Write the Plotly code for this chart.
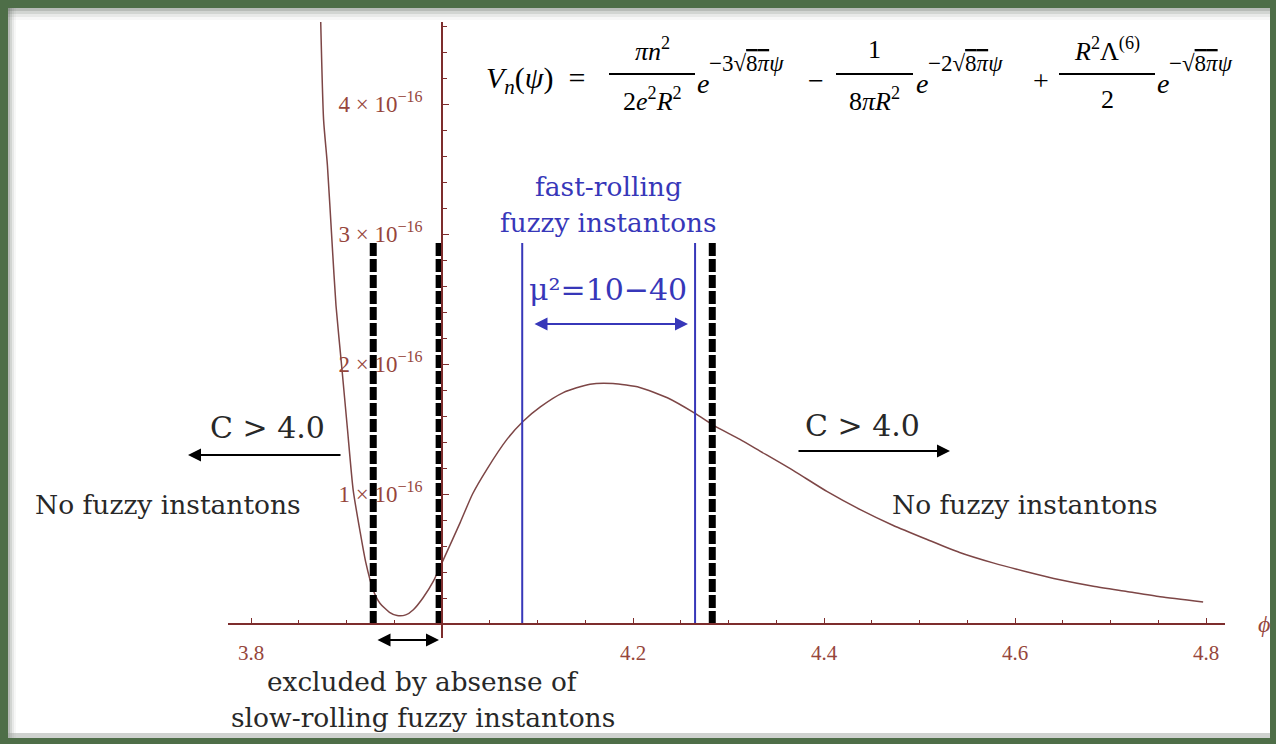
import plotly.graph_objects as go

W, H = 1276, 744

# ---------------- data (V in units of 1e-16) ----------------
phi = [3.873, 3.876, 3.880, 3.885, 3.889, 3.895, 3.901, 3.907, 3.914, 3.920,
       3.928, 3.935, 3.945, 3.953, 3.962, 3.970, 3.980, 3.991, 3.998, 4.003,
       4.019, 4.032, 4.047, 4.068, 4.085, 4.103, 4.127, 4.155, 4.179, 4.207,
       4.236, 4.265, 4.284, 4.312, 4.333, 4.368, 4.403, 4.438, 4.472, 4.508,
       4.542, 4.577, 4.613, 4.647, 4.682, 4.717, 4.752, 4.797]
V = [4.63, 3.88, 3.53, 2.92, 2.45, 1.98, 1.50, 1.03, 0.72, 0.48,
     0.26, 0.16, 0.09, 0.065, 0.07, 0.11, 0.20, 0.33, 0.44, 0.52,
     0.78, 1.00, 1.19, 1.42, 1.56, 1.67, 1.78, 1.845, 1.85, 1.82,
     1.74, 1.62, 1.53, 1.42, 1.33, 1.18, 1.02, 0.88, 0.76, 0.65,
     0.55, 0.47, 0.40, 0.34, 0.29, 0.25, 0.21, 0.17]

dashed_x = [3.928, 3.997, 4.283]   # thick black dashed boundaries
dashed_top = 2.93
blue_x = [4.084, 4.265]            # fast-rolling region
blue_top = 2.93

x_tickvals = [3.8, 4.2, 4.4, 4.6, 4.8]
x_ticktext = ["3.8", "4.2", "4.4", "4.6", "4.8"]
y_tickvals = [1, 2, 3, 4]
y_ticktext = ["1 × 10<sup>−16</sup>", "2 × 10<sup>−16</sup>",
              "3 × 10<sup>−16</sup>", "4 × 10<sup>−16</sup>"]

# ---------------- helpers (pixel -> paper) ----------------
def px(x):
    return x / W

def py(y):
    return 1 - y / H

AXC = "rgb(125,45,45)"
TICKC = "rgb(150,70,60)"
CURVEC = "rgb(125,70,70)"
BLUE = "rgb(55,55,185)"
TXT = "rgb(40,40,40)"
SERIF = "DejaVu Serif"
MATH = "Liberation Serif"

fig = go.Figure()

fig.add_trace(go.Scatter(x=phi, y=V, mode="lines",
                         line=dict(color=CURVEC, width=1.5, shape="spline", smoothing=0.6),
                         hoverinfo="skip", showlegend=False))
for xv in dashed_x:
    fig.add_trace(go.Scatter(x=[xv, xv], y=[0, dashed_top], mode="lines",
                             line=dict(color="black", width=7, dash="13px,3px"),
                             hoverinfo="skip", showlegend=False))
for xv in blue_x:
    fig.add_trace(go.Scatter(x=[xv, xv], y=[0, blue_top], mode="lines",
                             line=dict(color=BLUE, width=2),
                             hoverinfo="skip", showlegend=False))

# ---------------- background frame ----------------
shapes = [
    dict(type="rect", xref="paper", yref="paper", x0=px(8), x1=px(1270), y0=py(738), y1=py(8),
         fillcolor="white", line=dict(width=0), layer="below"),
]
for i, a in enumerate([0.22, 0.15, 0.09, 0.05]):
    shapes.append(dict(type="rect", xref="paper", yref="paper", x0=px(8), x1=px(1270),
                       y0=py(8 + 3 * (i + 1)), y1=py(8), fillcolor=f"rgba(90,100,90,{a})",
                       line=dict(width=0), layer="below"))
    shapes.append(dict(type="rect", xref="paper", yref="paper", x0=px(8), x1=px(8 + 2 * (i + 1)),
                       y0=py(738), y1=py(8), fillcolor=f"rgba(90,100,90,{a})",
                       line=dict(width=0), layer="below"))
shapes.append(dict(type="rect", xref="paper", yref="paper", x0=px(8), x1=px(1270), y0=py(738),
                   y1=py(733), fillcolor="rgba(160,165,160,0.5)", line=dict(width=0), layer="below"))

# fraction bars of the formula
for x0, x1 in [(609, 695), (836, 913), (1059, 1155)]:
    shapes.append(dict(type="line", xref="paper", yref="paper", x0=px(x0), x1=px(x1),
                       y0=py(74), y1=py(74), line=dict(color="black", width=1.8)))

ann = []

def text(t, x, y, size, color=TXT, family=SERIF, xanchor="center"):
    ann.append(dict(text=t, x=px(x), y=py(y), xref="paper", yref="paper", showarrow=False,
                    xanchor=xanchor, yanchor="middle",
                    font=dict(size=size, color=color, family=family)))

def arrow(x_head, y_head, x_tail, y_tail, color="black", both=False):
    ann.append(dict(text="", x=px(x_head), y=py(y_head), xref="paper", yref="paper",
                    ax=x_tail - x_head, ay=y_tail - y_head, axref="pixel", ayref="pixel",
                    showarrow=True, arrowhead=2, startarrowhead=2, arrowsize=1.3,
                    startarrowsize=1.3, arrowwidth=2, arrowcolor=color,
                    arrowside="end+start" if both else "end"))

OV = "<span style='text-decoration:overline'>8<i>π</i></span>"

# formula
text("<i>V<sub>n</sub></i>(<i>ψ</i>) &nbsp;=", 484, 80, 30, "black", MATH, "left")
text("<i>πn</i><sup>2</sup>", 652, 50, 26, "black", MATH)
text("2<i>e</i><sup>2</sup><i>R</i><sup>2</sup>", 652, 99, 26, "black", MATH)
text("<i>e</i>", 695, 83, 28, "black", MATH, "left")
text("−3√" + OV + "<i>ψ</i>", 707, 63, 23, "black", MATH, "left")
text("−", 816, 80, 28, "black", MATH)
text("1", 874, 50, 26, "black", MATH)
text("8<i>πR</i><sup>2</sup>", 874, 99, 26, "black", MATH)
text("<i>e</i>", 914, 83, 28, "black", MATH, "left")
text("−2√" + OV + "<i>ψ</i>", 926, 63, 23, "black", MATH, "left")
text("+", 1041, 80, 28, "black", MATH)
text("<i>R</i><sup>2</sup>Λ<sup>(6)</sup>", 1107, 50, 26, "black", MATH)
text("2", 1107, 99, 26, "black", MATH)
text("<i>e</i>", 1155, 83, 28, "black", MATH, "left")
text("−√" + OV + "<i>ψ</i>", 1167, 63, 23, "black", MATH, "left")

# annotations
text("C &gt; 4.0", 267, 427, 30)
arrow(188, 455, 342, 455)
text("No fuzzy instantons", 168, 505, 26.5)
text("C &gt; 4.0", 862, 425, 30)
arrow(950, 451, 797, 451)
text("No fuzzy instantons", 1025, 505, 26.5)
text("excluded by absense of", 423, 682, 26.3)
text("slow-rolling fuzzy instantons", 423, 717, 26.5)
arrow(439, 640, 376, 640, both=True)
text("fast-rolling", 608, 186, 26.5, BLUE)
text("fuzzy instantons", 608, 223, 26.3, BLUE)
text("μ²=10−40", 608, 289, 30, BLUE)
arrow(688, 324, 533, 324, color=BLUE, both=True)
text("<i>ϕ</i>", 1264, 624, 24, TICKC, MATH)

fig.update_layout(
    width=W, height=H,
    margin=dict(l=0, r=0, t=0, b=0),
    paper_bgcolor="rgb(78,110,72)",
    plot_bgcolor="rgba(0,0,0,0)",
    showlegend=False,
    shapes=shapes,
    annotations=ann,
    xaxis=dict(domain=[px(228), px(1225)], range=[4 - 214 / 955, 4 + 783 / 955],
               anchor="free", position=py(624),
               showline=True, linecolor=AXC, linewidth=1.6,
               ticks="inside", ticklen=5, tickwidth=1, tickcolor=AXC,
               tickmode="array", tickvals=x_tickvals, ticktext=x_ticktext,
               tickfont=dict(family=MATH, size=21, color=TICKC),
               ticklabelstandoff=10,
               minor=dict(ticks="inside", ticklen=3, tickcolor=AXC, tickmode="linear",
                          tick0=3.8, dtick=0.05),
               showgrid=False, zeroline=False, fixedrange=True),
    yaxis=dict(domain=[py(638), py(22)], range=[-14 / 130, (624 - 22) / 130],
               anchor="free", position=px(442),
               showline=True, linecolor=AXC, linewidth=1.6,
               ticks="inside", ticklen=6, tickwidth=1, tickcolor=AXC,
               tickmode="array", tickvals=y_tickvals, ticktext=y_ticktext,
               tickfont=dict(family=MATH, size=23, color=TICKC),
               ticklabelstandoff=14,
               minor=dict(ticks="inside", ticklen=4, tickcolor=AXC, tickmode="linear",
                          tick0=0, dtick=0.2),
               showgrid=False, zeroline=False, fixedrange=True),
)

fig.write_html("out.html")
